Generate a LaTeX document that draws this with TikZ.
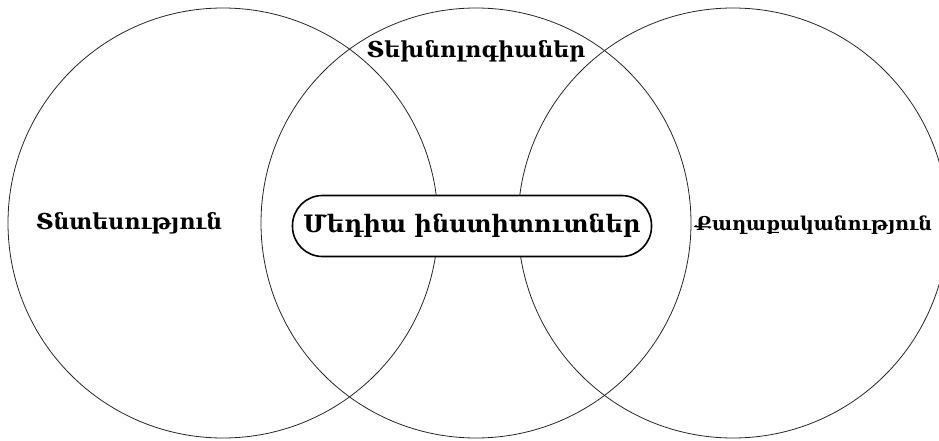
\documentclass[tikz,border=0pt]{standalone}
\usepackage{fontspec}
\setmainfont{DejaVu Serif}
\begin{document}
\begin{tikzpicture}[x=1pt,y=-1pt,font=\bfseries\fontsize{22}{24}\selectfont]

%Շրջանակներ
\useasboundingbox (0,0) rectangle (939,441);
\clip (0,0) rectangle (939,441);

\begin{scope}
\coordinate (econ) at (223,223);
\coordinate (tech) at (476,223);
\coordinate (pol) at (733,223);

\draw[line width=.8pt,black!85] (econ) circle (215pt);
\draw[line width=.8pt,black!85] (tech) circle (215pt);
\draw[line width=.8pt,black!85] (pol) circle (215pt);

\node (econlbl) at (129,223) {Տնտեսություն};
\node (techlbl) at (476,51) {Տեխնոլոգիաներ};
\node[anchor=west,inner sep=0pt,font=\bfseries\fontsize{19}{21}\selectfont] (pollbl) at (695,225) {Քաղաքականություն};

\node[draw,fill=white,line width=1.6pt,rounded corners=30pt,minimum width=359pt,minimum height=61pt,font=\bfseries\fontsize{24}{26}\selectfont] (media) at (472,226) {Մեդիա ինստիտուտներ};
\end{scope}

\end{tikzpicture}
\end{document}
